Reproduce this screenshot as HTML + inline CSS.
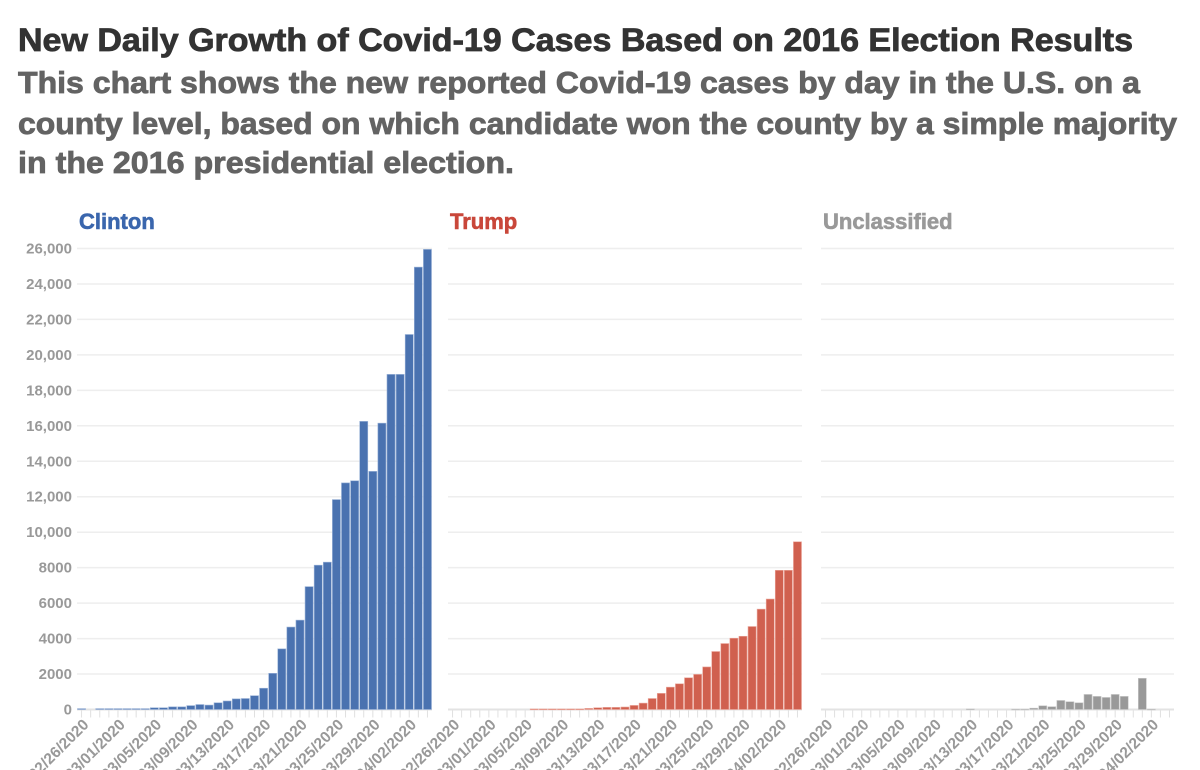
<!DOCTYPE html>
<html><head><meta charset="utf-8"><style>
body{margin:0;background:#fff;width:1200px;height:770px;overflow:hidden}
svg{display:block;font-family:"Liberation Sans",sans-serif;font-weight:bold}
</style></head><body>
<svg id="chart" width="1200" height="770">
<text x="18" y="51" font-size="32" fill="#333" stroke="#333" stroke-width="0.8" textLength="1115" lengthAdjust="spacingAndGlyphs">New Daily Growth of Covid-19 Cases Based on 2016 Election Results</text>
<text x="18" y="93" font-size="31" fill="#636363" stroke="#636363" stroke-width="0.8" textLength="1122" lengthAdjust="spacingAndGlyphs">This chart shows the new reported Covid-19 cases by day in the U.S. on a</text>
<text x="18" y="134" font-size="31" fill="#636363" stroke="#636363" stroke-width="0.8" textLength="1159" lengthAdjust="spacingAndGlyphs">county level, based on which candidate won the county by a simple majority</text>
<text x="18" y="173" font-size="31" fill="#636363" stroke="#636363" stroke-width="0.8" textLength="496" lengthAdjust="spacingAndGlyphs">in the 2016 presidential election.</text>
<g id="plots"></g>
</svg>
<script>
const dates = ["02/26","02/27","02/28","02/29","03/01","03/02","03/03","03/04","03/05","03/06","03/07","03/08","03/09","03/10","03/11","03/12","03/13","03/14","03/15","03/16","03/17","03/18","03/19","03/20","03/21","03/22","03/23","03/24","03/25","03/26","03/27","03/28","03/29","03/30","03/31","04/01","04/02","04/03","04/04"];
const clintonValues = [50,0,50,50,50,50,50,50,100,100,150,150,220,280,250,380,480,600,620,780,1200,2040,3420,4650,5040,6930,8140,8310,11840,12780,12900,16250,13430,16150,18900,18900,21150,24950,25950];
const trumpValues = [0,0,0,0,0,0,0,0,0,30,30,30,30,30,30,60,100,120,120,140,230,360,620,910,1260,1450,1790,1980,2400,3270,3720,4020,4130,4680,5660,6230,7850,7850,9460];
const unclassifiedValues = [0,0,0,0,0,0,0,0,0,0,0,0,0,0,0,0,30,0,0,0,0,20,20,75,210,160,510,440,380,850,740,680,850,740,0,1760,20,0,0];
const yTicks = [0,2000,4000,6000,8000,10000,12000,14000,16000,18000,20000,22000,24000,26000];
const panelNames = ["Clinton","Trump","Unclassified"];

const NS="http://www.w3.org/2000/svg";
const g=document.getElementById('plots');
function el(t,a,p){const e=document.createElementNS(NS,t);for(const k in a)e.setAttribute(k,a[k]);(p||g).appendChild(e);return e;}
const y0=709.5, yTop=248.5, yMax=26000;
function yScale(v){return y0-(v/yMax)*(y0-yTop);}
const panels=[
 {x0:77,w:355,color:"#4a72b0",stroke:"#9bb3d8",title:"#3a66ad",vals:clintonValues,axis:true},
 {x0:448,w:354,color:"#d0604f",stroke:"#eba79c",title:"#c9473a",vals:trumpValues,axis:false},
 {x0:821,w:353,color:"#999999",stroke:"#c9c9c9",title:"#999",vals:unclassifiedValues,axis:false}];
panels.forEach((p,pi)=>{
  const step=p.w/dates.length;
  const xScale=i=>p.x0+step*(i+0.5);
  const t=el('text',{x:p.x0+2,y:229,'font-size':22,fill:p.title,stroke:p.title,'stroke-width':0.6});
  t.textContent=panelNames[pi];
  
  
  yTicks.forEach(v=>{
    const l=el('line',{x1:p.x0,x2:p.x0+p.w,y1:yScale(v),y2:yScale(v),stroke:v===0?'#e3e3e3':'#eeeeee','stroke-width':v===0?2:1.5});
    
    
    if(p.axis){
      const tx=el('text',{x:72,y:yScale(v)+5,'font-size':15,fill:'#999','text-anchor':'end'});
      tx.textContent=v>=10000?v.toLocaleString('en-US'):String(v);
      
      
    }
  });
  dates.forEach((d,i)=>{
    const x=xScale(i);
    const tk=el('line',{x1:x,x2:x,y1:y0+1,y2:y0+8,stroke:'#e0e0e0','stroke-width':1});
    
    
    if(i%4===0){
      const lb=el('text',{x:x+8,y:y0+16,'font-size':15.5,fill:'#999','text-anchor':'end',transform:`rotate(-45 ${x+8} ${y0+16})`});
      lb.textContent=d+"/2020";
      
      
    }
    const v=p.vals[i];
    if(v>0){
      const top=yScale(v);
      const b=el('rect',{x:x-step/2+0.5,y:top,width:step-1,height:Math.max(y0-top,0.8),fill:p.color,stroke:p.stroke,'stroke-width':0.6});
      
      
    }
  });
});
</script>
</body></html>
